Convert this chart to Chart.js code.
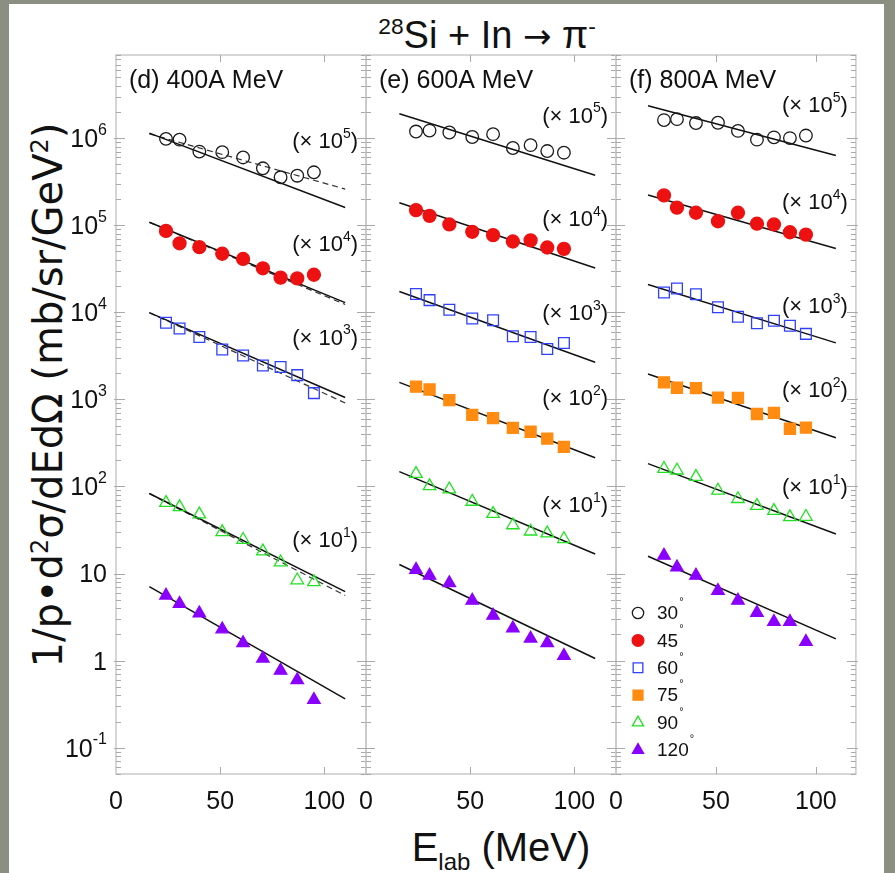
<!DOCTYPE html>
<html>
<head>
<meta charset="utf-8">
<script src="https://cdn.jsdelivr.net/npm/chart.js@4.4.1/dist/chart.umd.min.js"></script>
<style>
  body { margin: 0; width: 895px; height: 873px; overflow: hidden; position: relative;
         background: #8b8f81; font-family: 'Liberation Sans', Arial, sans-serif; color: #111; }
  #sheet { position: absolute; left: 9px; top: 4px; width: 875px; height: 869px; background: #fff; }
  canvas { position: absolute; top: 0; }
  .lbl { position: absolute; white-space: nowrap; line-height: 1; }
  #title { left: 287px; top: 16px; width: 400px; text-align: center; font-size: 38px; }
  #title .arr { font-family: 'DejaVu Sans', sans-serif; font-size: 34px; }
  #ytitle { left: 48px; top: 395px; font-family: 'DejaVu Sans', sans-serif; font-size: 40px;
            transform: translate(-50%, -50%) rotate(-90deg); }
  #xtitle { left: 501px; top: 847px; font-size: 40px; transform: translate(-50%, -50%); }
  sup, sub { font-size: 60%; line-height: 0; }
</style>
</head>
<body>
<div id="sheet"></div>
<div class="lbl" id="title"><sup>28</sup>Si + In <span class="arr">&rarr;</span> &pi;<sup>-</sup></div>
<div class="lbl" id="ytitle">1/p&bull;d<sup>2</sup>&sigma;/dEd&Omega; (mb/sr/GeV<sup>2</sup>)</div>
<div class="lbl" id="xtitle">E<sub>lab</sub> (MeV)</div>
<canvas id="p400" width="396" height="873"></canvas>
<canvas id="p600" width="310" height="873"></canvas>
<canvas id="p800" width="279" height="873"></canvas>

<script>
/* ============================================================
   pi- spectra, 28Si + In, three beam energies
   ============================================================ */

// pion lab energies (MeV) where every angle was measured
const energies  = [24, 30.5, 40, 51, 61, 70.5, 79, 87, 95];
const angles    = ['30', '45', '60', '75', '90', '120'];
const scaleExp  = [5, 4, 3, 2, 1, 0];          // each angle is shifted by 10^exp
const fitRange  = [16, 110];                   // MeV span of the fit lines
const xTicks    = [0, 50, 100];
const yMin = 0.05, yMax = 9e6;

// 400A MeV  (mb/sr/GeV^2, before the shift)
const pts400 = [
  [9.8, 9.6, 7.0, 6.9, 6.0, 4.5, 3.55, 3.7, 4.05],
  [8.6, 6.2, 5.6, 4.7, 4.1, 3.2, 2.5, 2.45, 2.7],
  [7.6, 6.5, 5.2, 3.75, 3.2, 2.45, 2.35, 1.9, 1.18],
  null,
  [6.5, 5.8, 4.8, 3.0, 2.45, 1.8, 1.35, 0.84, 0.80],
  [5.6, 4.5, 3.5, 2.3, 1.6, 1.06, 0.77, 0.60, 0.355],
];
const fit400  = [[11.4, 1.6], [10.8, 1.29], [9.9, 1.05], null, [8.3, 0.62], [7.1, 0.365]];
const dash400 = [[11.2, 2.6], [10.8, 1.23], [9.9, 0.91], null, [8.3, 0.56], null];

// 600A MeV
const pts600 = [
  [11.9, 12.2, 11.6, 10.3, 11.1, 7.7, 8.3, 7.1, 6.8],
  [14.9, 12.8, 10.2, 8.4, 7.7, 6.5, 6.7, 5.55, 5.35],
  [16.2, 13.8, 10.7, 8.5, 8.1, 5.3, 5.2, 3.8, 4.45],
  [14.0, 13.0, 9.8, 6.65, 6.1, 4.7, 4.25, 3.55, 2.85],
  [14.0, 10.1, 9.3, 6.7, 4.85, 3.6, 3.05, 2.9, 2.5],
  [11.1, 9.5, 7.8, 4.9, 3.3, 2.35, 1.8, 1.6, 1.14],
];
const fit600 = [[19.0, 3.75], [18.1, 3.23], [17.3, 2.67], [15.7, 2.14], [14.8, 1.68], [12.7, 1.06]];

// 800A MeV
const pts800 = [
  [16.1, 16.5, 14.9, 15.0, 12.1, 9.6, 10.2, 10.0, 10.7],
  [22.0, 15.9, 13.9, 11.1, 13.9, 10.4, 10.2, 8.3, 7.8],
  [16.9, 18.8, 16.1, 11.4, 8.9, 7.5, 8.0, 7.0, 5.65],
  [15.7, 13.6, 13.5, 10.5, 10.4, 6.8, 7.0, 4.6, 4.75],
  [16.0, 15.3, 12.9, 9.0, 7.2, 6.0, 5.25, 4.45, 4.5],
  [16.1, 11.8, 9.5, 6.35, 4.9, 3.55, 2.8, 2.8, 1.65],
];
const fit800 = [[23.5, 6.3], [22.2, 5.4], [20.9, 4.46], [19.6, 3.62], [18.3, 2.85], [15.8, 1.78]];

// where the "(x 10^n)" tags sit, in plotted units
const tags400 = [9.1e5, 5.9e4, 5.0e3, null, 23.5, null];
const tags600 = [1.77e6, 1.15e5, 9.6e3, 1.01e3, 59.6, null];
const tags800 = [2.35e6, 1.78e5, 1.15e4, 1.26e3, 95, null];

const MARK = [
  { color: '#1a1a1a', style: 'circle',   radius: 6.3, filled: false },
  { color: '#ee1111', style: 'circle',   radius: 6.5, filled: true  },
  { color: '#3040ff', style: 'rect',     radius: 7.6, filled: false },
  { color: '#ff8c10', style: 'rect',     radius: 7.8, filled: true  },
  { color: '#22e022', style: 'triangle', radius: 7.2, filled: false },
  { color: '#8a00ff', style: 'triangle', radius: 7.2, filled: true  },
];

const FONT = "'Liberation Sans', Arial, sans-serif";
const AREA_TOP = 55, AREA_W = 250;

// draws text pieces left to right, superscripts raised
function drawRich(ctx, parts, x, y, align) {
  const widths = parts.map(p => { ctx.font = p.font; return ctx.measureText(p.t).width; });
  const total = widths.reduce((s, w) => s + w, 0);
  let cx = align === 'right' ? x - total : x;
  ctx.textAlign = 'left';
  ctx.textBaseline = 'middle';
  parts.forEach((p, i) => {
    ctx.font = p.font;
    ctx.fillText(p.t, cx, y - (p.rise || 0));
    cx += widths[i];
  });
}

const framePlugin = {
  id: 'frame',
  beforeDatasetsDraw(chart) {
    const { ctx, chartArea: a, scales: { x, y } } = chart;
    ctx.save();
    ctx.strokeStyle = '#c9c9c9';
    ctx.lineWidth = 1.5;
    ctx.strokeRect(a.left, a.top, a.right - a.left, a.bottom - a.top);

    ctx.strokeStyle = '#a9a9a9';
    ctx.lineWidth = 1;
    ctx.beginPath();
    for (let e = -2; e <= 7; e++) {
      for (let m = 1; m <= 9; m++) {
        const v = m * Math.pow(10, e);
        if (v < yMin || v > yMax) continue;
        const py = Math.round(y.getPixelForValue(v)) + 0.5;
        const len = m === 1 ? 9 : 5;
        ctx.moveTo(a.left - (m === 1 ? 2 : 0), py); ctx.lineTo(a.left + len, py);
        ctx.moveTo(a.right + (m === 1 ? 2 : 0), py); ctx.lineTo(a.right - len, py);
      }
    }
    xTicks.slice(1).forEach(v => {
      const px = Math.round(x.getPixelForValue(v)) + 0.5;
      ctx.moveTo(px, a.bottom); ctx.lineTo(px, a.bottom - 7);
      ctx.moveTo(px, a.top); ctx.lineTo(px, a.top + 7);
    });
    ctx.stroke();
    ctx.restore();
  },
  afterDatasetsDraw(chart, args, opts) {
    const { ctx, chartArea: a, scales: { y } } = chart;
    ctx.save();
    ctx.fillStyle = '#111';

    // panel heading
    ctx.font = `25px ${FONT}`;
    ctx.textAlign = 'left';
    ctx.textBaseline = 'middle';
    ctx.fillText(opts.heading, a.left + 13, a.top + 26);

    // shift factors
    opts.tags.forEach((v, i) => {
      if (v == null || scaleExp[i] === 0) return;
      drawRich(ctx, [
        { t: '(\u00d7 10', font: `22px ${FONT}` },
        { t: String(scaleExp[i]), font: `14px ${FONT}`, rise: 8 },
        { t: ')', font: `22px ${FONT}` },
      ], a.right - 8, y.getPixelForValue(v), 'right');
    });

    // decade labels on the shared axis
    if (opts.yLabels) {
      for (let e = -1; e <= 6; e++) {
        const py = y.getPixelForValue(Math.pow(10, e));
        const parts = e === 0 ? [{ t: '1', font: `25px ${FONT}` }]
          : e === 1 ? [{ t: '10', font: `25px ${FONT}` }]
          : [{ t: '10', font: `25px ${FONT}` }, { t: String(e), font: `16px ${FONT}`, rise: 10 }];
        drawRich(ctx, parts, a.left - 9, py + 2, 'right');
      }
    }

    // angle key
    if (opts.legend) {
      angles.forEach((ang, i) => {
        const m = MARK[i];
        const py = a.top + 558 + i * 27.4;
        ctx.fillStyle = m.filled ? m.color : 'rgba(0,0,0,0)';
        ctx.strokeStyle = m.color;
        ctx.lineWidth = 1.3;
        Chart.helpers.drawPoint(ctx, { pointStyle: m.style, radius: m.radius * 0.9, rotation: 0, borderWidth: 1.3 }, a.left + 22, py);
        ctx.fillStyle = '#111';
        ctx.font = `19px ${FONT}`;
        ctx.textAlign = 'left';
        ctx.textBaseline = 'middle';
        ctx.fillText(ang, a.left + 41, py + 1);
        const w = ctx.measureText(ang).width;
        ctx.font = `11px ${FONT}`;
        ctx.fillText('\u00b0', a.left + 42 + w, py - 11);
      });
    }
    ctx.restore();
  }
};

function buildDatasets(pts, fits, dashes) {
  const sets = [];
  pts.forEach((row, i) => {
    if (!row) return;
    const k = Math.pow(10, scaleExp[i]);
    const m = MARK[i];
    sets.push({
      label: angles[i],
      data: energies.map((e, j) => ({ x: e, y: row[j] * k })),
      showLine: false,
      pointStyle: m.style,
      pointRadius: m.radius,
      borderWidth: 1.3,
      borderColor: m.color,
      backgroundColor: m.filled ? m.color : 'rgba(0,0,0,0)',
    });
  });
  const addLine = (pair, i, dash) => {
    if (!pair) return;
    const k = Math.pow(10, scaleExp[i]);
    sets.push({
      data: fitRange.map((e, j) => ({ x: e, y: pair[j] * k })),
      showLine: true,
      pointRadius: 0,
      borderColor: dash ? '#333' : '#111',
      borderWidth: dash ? 1.2 : 1.5,
      borderDash: dash ? [6, 4] : [],
    });
  };
  fits.forEach((p, i) => addLine(p, i, false));
  if (dashes) dashes.forEach((p, i) => addLine(p, i, true));
  return sets;
}

function makePanel(id, canvasLeft, padLeft, heading, pts, fits, dashes, tags, yLabels, legend) {
  const el = document.getElementById(id);
  el.style.left = canvasLeft + 'px';
  return new Chart(el, {
    type: 'scatter',
    data: { datasets: buildDatasets(pts, fits, dashes) },
    options: {
      responsive: false,
      animation: false,
      layout: { padding: { left: padLeft, right: el.width - padLeft - AREA_W, top: AREA_TOP, bottom: 43 } },
      plugins: {
        legend: { display: false },
        tooltip: { enabled: false },
        frame: { heading, tags, yLabels, legend },
      },
      scales: {
        x: {
          type: 'linear', min: 0, max: 120,
          afterBuildTicks: axis => { axis.ticks = xTicks.map(v => ({ value: v })); },
          grid: { display: false, drawTicks: false },
          border: { display: false },
          ticks: { color: '#111', padding: 13, maxRotation: 0, font: { family: FONT, size: 25 } },
        },
        y: { type: 'logarithmic', min: yMin, max: yMax, display: false },
      },
    },
    plugins: [framePlugin],
  });
}

makePanel('p400', 0,   116, '(d) 400A MeV', pts400, fit400, dash400, tags400, true,  false);
makePanel('p600', 336, 30,  '(e) 600A MeV', pts600, fit600, null,    tags600, false, false);
makePanel('p800', 586, 30,  '(f) 800A MeV', pts800, fit800, null,    tags800, false, true);
</script>
</body>
</html>
